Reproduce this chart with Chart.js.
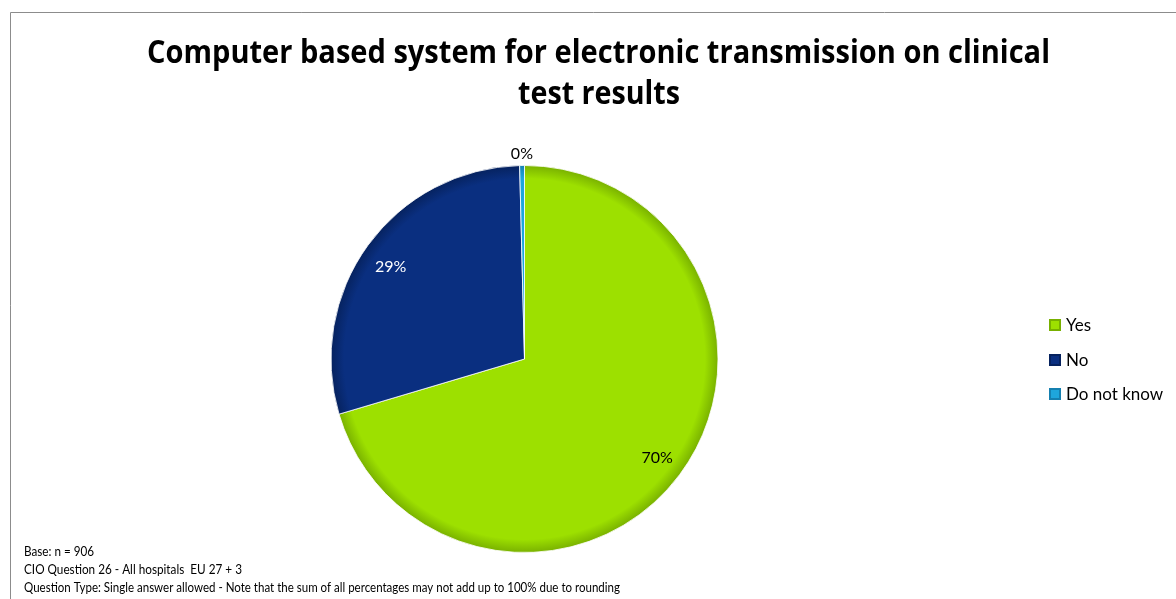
<!DOCTYPE html>
<html>
<head>
<meta charset="utf-8">
<script src="https://cdn.jsdelivr.net/npm/chart.js@4.4.1/dist/chart.umd.min.js"></script>
<style>
  html, body { margin: 0; padding: 0; background: #ffffff; }
  #wrap { width: 1176px; height: 599px; position: relative; }
</style>
</head>
<body>
<div id="wrap"><canvas id="c" width="1176" height="599"></canvas></div>
<script>
const titleLines = ["Computer based system for electronic transmission on clinical", "test results"];
const categories = ["Yes", "No", "Do not know"];
const values = [70.4, 29.2, 0.4];
const valueLabels = ["70%", "29%", "0%"];
const footnotes = [
  "Base: n = 906",
  "CIO Question 26 - All hospitals  EU 27 + 3",
  "Question Type: Single answer allowed - Note that the sum of all percentages may not add up to 100% due to rounding"
];
const colors = ["#9de000", "#0a2f80", "#1ea6dc"];
const edgeColors = ["#78b000", "#06225e", "#1580b0"];
const FONT = "Lato, 'Open Sans', sans-serif";
const TFONT = "'Open Sans', Lato, sans-serif";

function sliceFill(ctx) {
  const chart = ctx.chart;
  const i = ctx.dataIndex;
  const a = chart.chartArea;
  if (!a) return colors[i];
  const cx = (a.left + a.right) / 2, cy = (a.top + a.bottom) / 2;
  const r = Math.min(a.right - a.left, a.bottom - a.top) / 2;
  const g = chart.ctx.createRadialGradient(cx, cy, 0, cx, cy, r);
  g.addColorStop(0, colors[i]);
  g.addColorStop(0.93, colors[i]);
  g.addColorStop(1, edgeColors[i]);
  return g;
}

const decor = {
  id: 'decor',
  beforeDraw(chart) {
    const ctx = chart.ctx;
    ctx.save();
    ctx.fillStyle = '#ffffff';
    ctx.fillRect(0, 0, chart.width, chart.height);
    ctx.strokeStyle = '#8c8c8c';
    ctx.lineWidth = 1;
    ctx.beginPath();
    ctx.moveTo(10.5, chart.height);
    ctx.lineTo(10.5, 12.5);
    ctx.lineTo(chart.width, 12.5);
    ctx.stroke();
    ctx.restore();
  },
  afterDraw(chart) {
    const ctx = chart.ctx;
    ctx.save();
    // title
    ctx.fillStyle = '#000000';
    ctx.textAlign = 'center';
    ctx.textBaseline = 'alphabetic';
    ctx.font = "bold 32px " + TFONT;
    ctx.fillText(titleLines[0], 598.5, 63, 903);
    ctx.fillText(titleLines[1], 599, 104, 162);
    // value labels
    const meta = chart.getDatasetMeta(0);
    ctx.font = "16px " + FONT;
    ctx.textBaseline = 'middle';
    meta.data.forEach((arc, i) => {
      const p = arc.getProps(['x', 'y', 'startAngle', 'endAngle', 'outerRadius'], true);
      const mid = (p.startAngle + p.endAngle) / 2;
      let rr, col;
      if (values[i] < 1) { rr = p.outerRadius + 12; col = '#000000'; }
      else { rr = p.outerRadius * 0.855; col = i === 1 ? '#ffffff' : '#000000'; }
      ctx.fillStyle = col;
      let y = p.y + Math.sin(mid) * rr;
      if (i === 1) y += 5;
      ctx.fillText(valueLabels[i], p.x + Math.cos(mid) * rr, y);
    });
    // legend
    ctx.textAlign = 'left';
    const ly = [325, 360, 394];
    categories.forEach((c, i) => {
      ctx.fillStyle = edgeColors[i];
      ctx.fillRect(1049, ly[i] - 6, 12, 12);
      ctx.fillStyle = colors[i];
      ctx.fillRect(1051, ly[i] - 4, 8, 8);
      ctx.fillStyle = '#000000';
      ctx.font = "17px " + FONT;
      ctx.fillText(c, 1066, ly[i] + 1, i === 2 ? 99 : 200);
    });
    // footnotes
    ctx.font = "13px " + FONT;
    ctx.textBaseline = 'alphabetic';
    const fy = [556, 574, 592];
    const fw = [70, 218, 596];
    footnotes.forEach((t, i) => ctx.fillText(t, 24, fy[i], fw[i]));
    ctx.restore();
  }
};

new Chart(document.getElementById('c'), {
  type: 'pie',
  data: {
    labels: categories,
    datasets: [{
      data: values,
      backgroundColor: sliceFill,
      borderColor: 'rgba(255,255,255,0.8)',
      borderWidth: 1
    }]
  },
  options: {
    responsive: false,
    animation: false,
    layout: { padding: { top: 165, bottom: 46, left: 0, right: 127 } },
    plugins: {
      legend: { display: false },
      title: { display: false },
      tooltip: { enabled: false }
    }
  },
  plugins: [decor]
});
</script>
</body>
</html>
